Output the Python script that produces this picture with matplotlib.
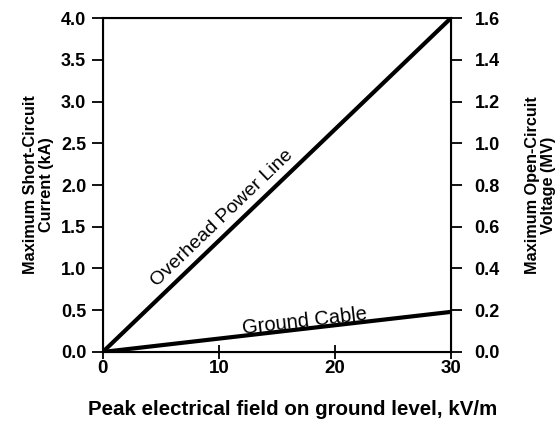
import matplotlib
matplotlib.use("Agg")
import matplotlib.pyplot as plt

plt.rcParams['font.family'] = ['Liberation Sans', 'DejaVu Sans']
plt.rcParams['font.weight'] = 'bold'

# data
field = [0, 30]                  # kV/m
overhead_current = [0, 4.0]      # kA
cable_current = [0, 0.48]        # kA
left_ticks = [0.0, 0.5, 1.0, 1.5, 2.0, 2.5, 3.0, 3.5, 4.0]
right_ticks = [0.0, 0.2, 0.4, 0.6, 0.8, 1.0, 1.2, 1.4, 1.6]
x_ticks = [0, 10, 20, 30]

fig = plt.figure(figsize=(5.56, 4.21), dpi=100)
ax = fig.add_axes([0.185, 0.164, 0.626, 0.793])

ax.plot(field, overhead_current, color='black', lw=3, solid_capstyle='butt')
ax.plot(field, cable_current, color='black', lw=3, solid_capstyle='butt')

ax.set_xlim(0, 30)
ax.set_ylim(0, 4.0)
ax.set_xticks(x_ticks)
ax.set_yticks(left_ticks)
ax.set_yticklabels([f"{v:.1f}" for v in left_ticks])
for s in ax.spines.values():
    s.set_linewidth(1.5)
ax.tick_params(axis='y', direction='out', length=8, width=1.3, labelsize=13, pad=4)
ax.tick_params(axis='x', direction='inout', length=10, width=1.3, labelsize=13.5, pad=1)

ax2 = ax.twinx()
ax2.set_ylim(0, 1.6)
ax2.set_yticks(right_ticks)
ax2.set_yticklabels([f"{v:.1f}" for v in right_ticks])
ax2.tick_params(axis='y', direction='out', length=8, width=1.3, labelsize=13, pad=9)

ax.set_xlabel('Peak electrical field on ground level, kV/m', fontsize=14.8, fontweight='bold')
ax.xaxis.set_label_coords(0.546, -0.145)
ax.set_ylabel('Maximum Short-Circuit\nCurrent (kA)', fontsize=11.7, fontweight='bold', labelpad=5, linespacing=1.05)
ax2.set_ylabel('Maximum Open-Circuit\nVoltage (MV)', fontsize=11.7, fontweight='bold', labelpad=18, linespacing=1.05)

ax.text(10.3, 1.6, 'Overhead Power Line', rotation=43.8, ha='center', va='center',
        fontsize=14, fontweight='normal')
ax.text(17.4, 0.37, 'Ground Cable', rotation=6.6, ha='center', va='center',
        fontsize=14.5, fontweight='normal')

fig.savefig('out.png', dpi=100)
